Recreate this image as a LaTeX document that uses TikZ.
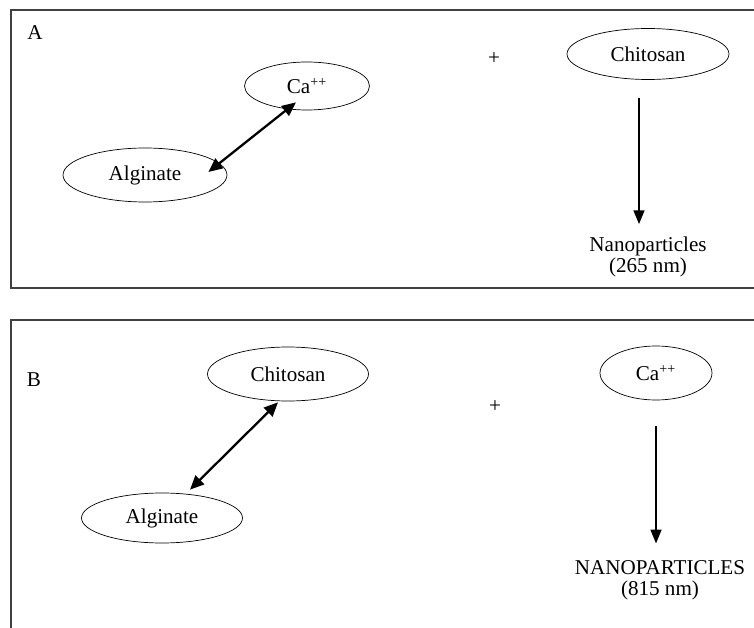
\documentclass[tikz,border=0pt]{standalone}
\usepackage{fontspec}
\setmainfont{Liberation Serif}
\usepackage{tikz}
\usetikzlibrary{calc}
\usetikzlibrary{arrows.meta}
\usetikzlibrary{shapes.geometric}

\begin{document}
\begin{tikzpicture} [x=.02cm, y=-.02cm, font=\fontsize{12}{12.2}\selectfont,
  blob/.style={draw, ellipse, thin, inner sep=0pt},
  panel/.style={draw=black!75, line width=.8pt},
  link/.style={{Triangle[length=8pt,width=7pt]}-{Triangle[length=8pt,width=7pt]}, line width=1.3pt},
  yield/.style={-{Triangle[length=8pt,width=6pt]}, line width=1.6pt}]
\useasboundingbox (0,0) rectangle (754,628);
\draw[panel] (11,10) rectangle (780,288);
\draw[panel] (11,320) rectangle (780,660);

% panel A
\node (labA) at (35,33) {A};
\node[blob, minimum width=2.5cm, minimum height=.96cm] (caA) at (307,86) {Ca\textsuperscript{++}};
\node[blob, minimum width=3.28cm, minimum height=1.08cm] (algA) at (145,175) {Alginate};
\node (plusA) at (494,59) {+};
\node[blob, minimum width=3.24cm, minimum height=1.02cm] (chiA) at (648,54) {Chitosan};
\node[align=center, inner sep=0pt] (nanoA) at (648,257) {Nanoparticles\\(265 nm)};
\draw[link] ($(algA.east)+(-19,-3)$) -- ($(caA.south)+(-11,-8)$);
\draw[yield] ($(chiA.south)+(-9,18)$) -- ($(nanoA.north)+(-9,-12)$);

% panel B
\node (labB) at (34,380) {B};
\node[blob, minimum width=3.22cm, minimum height=1.08cm] (chiB) at (288,374) {Chitosan};
\node[blob, minimum width=3.22cm, minimum height=1cm] (algB) at (162,518) {Alginate};
\node (plusB) at (495,407) {+};
\node[blob, minimum width=2.24cm, minimum height=1.08cm] (caB) at (656,373) {Ca\textsuperscript{++}};
\node[align=center, inner sep=0pt] (nanoB) at (660,580) {NANOPARTICLES\\(815 nm)};
\draw[link] ($(algB.north)+(28,-3)$) -- ($(chiB.south)+(-10,1)$);
\draw[yield] ($(caB.south)+(0,26)$) -- ($(nanoB.north)+(-4,-16)$);

\end{tikzpicture}
\end{document}
